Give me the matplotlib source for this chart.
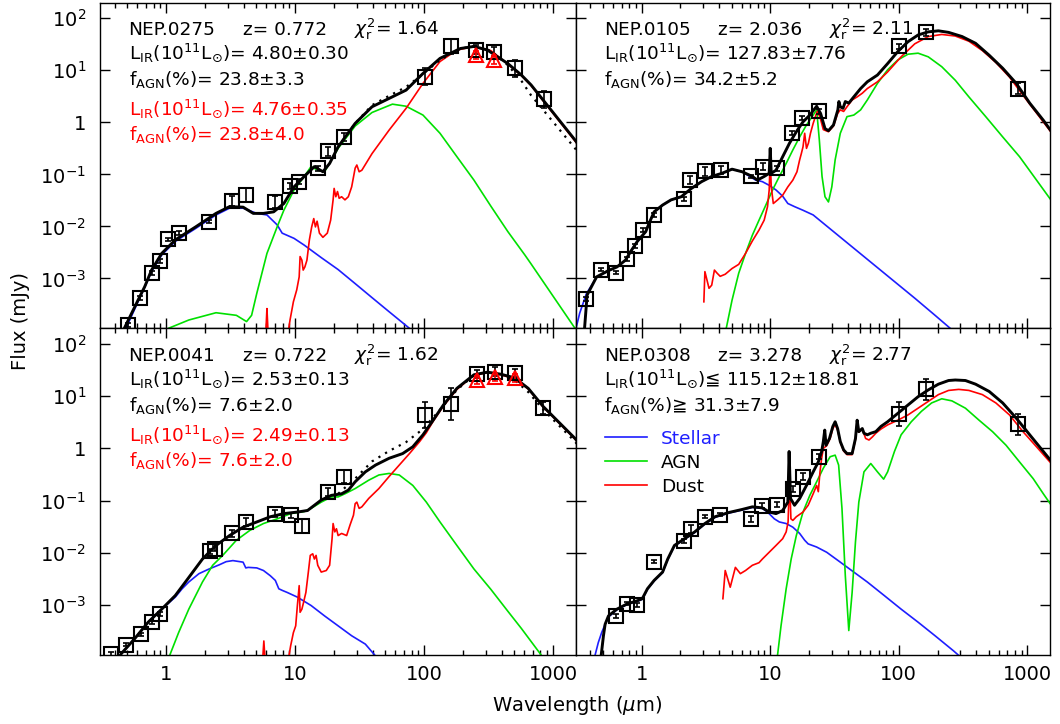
import matplotlib

matplotlib.use("Agg")

import matplotlib.pyplot as plt
import numpy as np
from matplotlib.lines import Line2D
from matplotlib.ticker import NullLocator

plt.rcParams["font.family"] = ["DejaVu Sans"]
plt.rcParams["mathtext.fontset"] = "dejavusans"

# every value below is log10(wavelength / um) or log10(flux / mJy)

# ---- NEP.0275 (top left) ----
p1_total_lw = [-0.34, -0.324, -0.218, -0.166, -0.113, -0.034, 0.071, 0.229, 0.387, 0.492,
               0.597, 0.676, 0.755, 0.834, 0.913, 0.992, 1.071, 1.150, 1.216, 1.268,
               1.334, 1.466, 1.597, 1.729, 1.861, 1.992, 2.124, 2.282, 2.387, 2.492,
               2.650, 2.755, 2.83, 3.171, 3.20]
p1_total_lf = [-4.08, -3.96, -3.42, -3.16, -2.84, -2.52, -2.26, -2.01, -1.75, -1.62,
               -1.63, -1.75, -1.75, -1.72, -1.56, -1.24, -1.04, -0.85, -0.95, -0.79,
               -0.47, -0.02, 0.30, 0.46, 0.62, 0.94, 1.23, 1.42, 1.46, 1.39,
               1.13, 0.91, 0.72, -0.34, -0.44]
p1_star_lw = [-0.34, -0.311, -0.218, -0.166, -0.113, -0.034, 0.071, 0.229, 0.387, 0.492,
              0.597, 0.703, 0.782, 0.861, 0.900, 0.992, 1.071, 1.203, 1.334, 1.466,
              1.597, 1.729, 1.887, 2.10]
p1_star_lf = [-4.10, -3.96, -3.45, -3.17, -2.87, -2.55, -2.29, -2.04, -1.78, -1.65,
              -1.65, -1.75, -1.78, -1.97, -2.13, -2.23, -2.36, -2.60, -2.83, -3.10,
              -3.37, -3.64, -3.96, -4.40]
p1_agn_lw = [-0.034, 0.018, 0.176, 0.387, 0.545, 0.624, 0.663, 0.703, 0.782, 0.861,
             0.913, 0.992, 1.071, 1.124, 1.176, 1.229, 1.282, 1.334, 1.466, 1.597,
             1.755, 1.861, 1.992, 2.124, 2.255, 2.387, 2.518, 2.650, 2.782, 2.827,
             3.171, 3.25]
p1_agn_lf = [-4.06, -3.96, -3.80, -3.66, -3.71, -3.83, -3.71, -3.29, -2.52, -2.01,
             -1.69, -1.30, -1.04, -0.85, -0.92, -0.95, -0.72, -0.50, -0.07, 0.19,
             0.35, 0.31, 0.14, -0.21, -0.66, -1.11, -1.61, -2.10, -2.55, -2.71,
             -3.96, -4.25]
p1_dust_lw = [0.765, 0.776, 0.782, 0.789, 0.800, 0.930, 0.945, 0.961, 0.987, 1.013,
              1.032, 1.039, 1.053, 1.063, 1.076, 1.092, 1.111, 1.129, 1.145, 1.158,
              1.171, 1.189, 1.216, 1.250, 1.276, 1.295, 1.303, 1.316, 1.329, 1.342,
              1.361, 1.387, 1.413, 1.439, 1.466, 1.479, 1.497, 1.518, 1.597, 1.729,
              1.861, 1.992, 2.124, 2.255, 2.387, 2.518, 2.650, 2.755, 2.83, 3.20]
p1_dust_lf = [-4.4, -3.9, -3.58, -3.95, -4.4, -4.40, -4.06, -3.80, -3.45, -3.22,
              -2.97, -2.58, -2.65, -2.84, -2.78, -2.65, -2.26, -2.01, -1.85, -2.01,
              -1.90, -2.13, -2.21, -2.13, -1.88, -1.49, -1.27, -1.43, -1.33, -1.46,
              -1.43, -1.49, -1.43, -1.24, -0.88, -0.82, -0.95, -0.92, -0.60, -0.15,
              0.27, 0.75, 1.17, 1.39, 1.46, 1.38, 1.12, 0.90, 0.71, -0.45]
p1_alt_lw = [1.334, 1.466, 1.597, 1.729, 1.861, 1.992, 2.124, 2.282, 2.387, 2.518,
             2.650, 2.755, 2.83, 3.171, 3.20]
p1_alt_lf = [-0.47, -0.02, 0.33, 0.51, 0.68, 0.93, 1.20, 1.42, 1.46, 1.38,
             1.10, 0.80, 0.52, -0.50, -0.60]
p1_obs_lw = [-0.297, -0.200, -0.108, -0.047, 0.013, 0.097, 0.334, 0.513, 0.618, 0.847,
             0.961, 1.032, 1.176, 1.255, 1.382, 2.005, 2.211, 2.400, 2.545, 2.703, 2.930]
p1_obs_lf = [-3.90, -3.38, -2.90, -2.67, -2.25, -2.13, -1.91, -1.51, -1.40, -1.53,
             -1.22, -1.14, -0.88, -0.56, -0.28, 0.88, 1.46, 1.40, 1.36, 1.04, 0.44]
p1_obs_err = [0.04, 0.04, 0.04, 0.04, 0.03, 0.04, 0.03, 0.09, 0.13, 0.12,
              0.06, 0.05, 0.05, 0.08, 0.07, 0.16, 0.14, 0.08, 0.08, 0.16, 0.17]
p1_tri_lw = [2.400, 2.545]
p1_tri_lf = [1.29, 1.20]
p1_tri_err = [0.08, 0.08]

# ---- NEP.0105 (top right) ----
p2_total_lw = [-0.447, -0.424, -0.403, -0.350, -0.258, -0.192, -0.126, -0.087, -0.034, 0.032,
               0.058, 0.097, 0.163, 0.229, 0.308, 0.387, 0.466, 0.545, 0.624, 0.703,
               0.782, 0.861, 0.900, 0.953, 0.992, 1.000, 1.008, 1.045, 1.097, 1.150,
               1.203, 1.255, 1.308, 1.361, 1.392, 1.426, 1.453, 1.492, 1.526, 1.534,
               1.545, 1.566, 1.584, 1.611, 1.650, 1.703, 1.755, 1.834, 1.913, 1.992,
               2.071, 2.150, 2.229, 2.308, 2.387, 2.492, 2.597, 2.703, 2.808, 2.913,
               3.018, 3.124, 3.20]
p2_total_lf = [-4.06, -3.32, -3.22, -2.97, -2.85, -2.78, -2.65, -2.49, -2.29, -2.10,
               -1.94, -1.72, -1.59, -1.49, -1.43, -1.27, -1.14, -1.04, -0.98, -0.90,
               -0.95, -1.04, -1.11, -1.04, -0.98, -0.50, -0.98, -0.92, -0.66, -0.40,
               -0.18, 0.01, 0.14, 0.31, 0.17, -0.12, -0.16, -0.05, 0.24, 0.40,
               0.30, 0.27, 0.40, 0.37, 0.49, 0.65, 0.78, 0.91, 1.13, 1.36,
               1.55, 1.68, 1.74, 1.76, 1.73, 1.65, 1.52, 1.29, 1.04, 0.75,
               0.37, 0.04, -0.22]
p2_star_lw = [-0.513, -0.482, -0.429, -0.350, -0.258, -0.192, -0.126, -0.087, -0.034, 0.032,
              0.058, 0.097, 0.163, 0.229, 0.308, 0.387, 0.466, 0.545, 0.624, 0.703,
              0.782, 0.834, 0.887, 0.939, 0.992, 1.045, 1.097, 1.137, 1.189, 1.255,
              1.334, 1.492, 1.650, 1.808, 1.966, 2.124, 2.282, 2.400, 2.545]
p2_star_lf = [-3.99, -3.67, -3.29, -2.98, -2.85, -2.78, -2.65, -2.49, -2.29, -2.10,
              -1.94, -1.72, -1.59, -1.49, -1.43, -1.27, -1.14, -1.04, -0.98, -0.90,
              -0.95, -1.03, -1.11, -1.14, -1.21, -1.30, -1.42, -1.56, -1.62, -1.69,
              -1.78, -2.10, -2.42, -2.74, -3.06, -3.38, -3.71, -3.96, -4.25]
p2_agn_lw = [0.620, 0.658, 0.703, 0.755, 0.808, 0.861, 0.913, 0.966, 1.018, 1.071,
             1.124, 1.176, 1.229, 1.282, 1.334, 1.361, 1.382, 1.403, 1.426, 1.453,
             1.479, 1.505, 1.545, 1.597, 1.650, 1.703, 1.755, 1.834, 1.913, 1.992,
             2.071, 2.150, 2.229, 2.334, 2.439, 2.545, 2.676, 2.808, 2.939, 3.071, 3.20]
p2_agn_lf = [-4.3, -3.96, -3.42, -2.90, -2.52, -2.17, -1.88, -1.59, -1.30, -1.04,
             -0.79, -0.53, -0.28, -0.05, 0.14, 0.24, -0.34, -1.04, -1.43, -1.53,
             -1.24, -0.72, -0.21, 0.11, 0.14, 0.24, 0.43, 0.75, 1.01, 1.20,
             1.31, 1.33, 1.26, 1.07, 0.81, 0.49, 0.11, -0.28, -0.66, -1.11, -1.55]
p2_dust_lw = [0.484, 0.492, 0.505, 0.524, 0.545, 0.566, 0.587, 0.611, 0.650, 0.703,
              0.755, 0.808, 0.861, 0.913, 0.953, 0.979, 0.992, 1.000, 1.008, 1.024,
              1.058, 1.097, 1.137, 1.176, 1.208, 1.229, 1.242, 1.255, 1.268, 1.282,
              1.297, 1.313, 1.334, 1.355, 1.366, 1.387, 1.413, 1.453, 1.492, 1.524,
              1.545, 1.571, 1.597, 1.637, 1.676, 1.716, 1.755, 1.834, 1.913, 2.018,
              2.124, 2.229, 2.334, 2.439, 2.545, 2.650, 2.755, 2.861, 2.966, 3.071, 3.20]
p2_dust_lf = [-3.45, -2.87, -3.00, -3.19, -3.13, -2.84, -2.90, -2.96, -2.92, -2.81,
              -2.73, -2.52, -2.28, -2.07, -1.88, -1.62, -1.30, -0.69, -1.24, -1.56,
              -1.49, -1.40, -1.24, -1.11, -0.95, -0.72, -0.60, -0.47, -0.21, -0.50,
              -0.40, -0.21, -0.02, 0.14, 0.21, 0.10, -0.14, -0.18, -0.07, 0.17,
              0.24, 0.21, 0.30, 0.43, 0.49, 0.56, 0.65, 0.78, 0.97, 1.26,
              1.51, 1.65, 1.69, 1.66, 1.56, 1.38, 1.15, 0.87, 0.52, 0.18, -0.24]
p2_obs_lw = [-0.429, -0.316, -0.197, -0.113, -0.053, 0.011, 0.097, 0.329, 0.376, 0.492,
             0.616, 0.847, 0.945, 1.050, 1.171, 1.250, 1.382, 2.000, 2.208, 2.926]
p2_obs_lf = [-3.40, -2.83, -2.89, -2.63, -2.38, -2.07, -1.78, -1.48, -1.11, -0.94,
             -0.92, -1.04, -0.85, -0.88, -0.20, 0.08, 0.21, 1.46, 1.73, 0.65]
p2_obs_err = [0.04, 0.03, 0.03, 0.04, 0.04, 0.04, 0.04, 0.04, 0.07, 0.09,
              0.08, 0.03, 0.06, 0.05, 0.04, 0.04, 0.04, 0.04, 0.06, 0.10]

# ---- NEP.0041 (bottom left) ----
p3_total_lw = [-0.40, -0.350, -0.245, -0.139, -0.034, 0.071, 0.150, 0.216, 0.282, 0.387,
               0.492, 0.597, 0.703, 0.808, 0.913, 1.018, 1.097, 1.150, 1.203, 1.282,
               1.361, 1.413, 1.466, 1.545, 1.624, 1.729, 1.834, 1.913, 1.992, 2.071,
               2.150, 2.255, 2.387, 2.492, 2.597, 2.703, 2.808, 2.925, 3.171, 3.20]
p3_total_lf = [-4.15, -3.94, -3.65, -3.33, -3.08, -2.82, -2.56, -2.34, -2.12, -1.86,
               -1.67, -1.51, -1.41, -1.31, -1.25, -1.22, -1.19, -1.09, -0.99, -0.90,
               -0.87, -0.80, -0.64, -0.45, -0.32, -0.19, -0.10, 0.03, 0.26, 0.54,
               0.83, 1.15, 1.41, 1.46, 1.42, 1.35, 1.15, 0.80, 0.19, 0.10]
p3_star_lw = [-0.40, -0.350, -0.245, -0.139, -0.034, 0.071, 0.124, 0.176, 0.255, 0.334,
              0.413, 0.466, 0.518, 0.571, 0.597, 0.618, 0.637, 0.703, 0.755, 0.808,
              0.847, 0.874, 0.900, 0.939, 1.018, 1.124, 1.229, 1.334, 1.439, 1.545,
              1.611, 1.75]
p3_star_lf = [-4.20, -3.94, -3.65, -3.33, -3.08, -2.85, -2.69, -2.56, -2.40, -2.31,
              -2.23, -2.17, -2.15, -2.17, -2.18, -2.29, -2.28, -2.29, -2.34, -2.44,
              -2.53, -2.69, -2.72, -2.76, -2.85, -3.01, -3.21, -3.40, -3.59, -3.75,
              -3.94, -4.35]
p3_agn_lw = [-0.03, 0.032, 0.097, 0.176, 0.282, 0.361, 0.439, 0.545, 0.650, 0.755,
             0.861, 0.966, 1.071, 1.124, 1.203, 1.282, 1.334, 1.387, 1.466, 1.571,
             1.650, 1.729, 1.808, 1.913, 2.018, 2.124, 2.255, 2.387, 2.518, 2.650,
             2.755, 2.90, 3.0]
p3_agn_lf = [-4.35, -3.94, -3.53, -3.08, -2.56, -2.24, -2.05, -1.76, -1.57, -1.44,
             -1.35, -1.25, -1.21, -1.15, -1.03, -0.93, -0.93, -0.87, -0.77, -0.61,
             -0.51, -0.48, -0.51, -0.71, -1.03, -1.41, -1.86, -2.31, -2.70, -3.12,
             -3.45, -3.93, -4.3]
p3_dust_lw = [0.740, 0.750, 0.758, 0.766, 0.776, 0.940, 0.953, 0.966, 0.987, 1.005,
              1.018, 1.032, 1.039, 1.053, 1.066, 1.084, 1.103, 1.118, 1.137, 1.150,
              1.163, 1.176, 1.203, 1.242, 1.268, 1.287, 1.295, 1.308, 1.321, 1.334,
              1.361, 1.400, 1.426, 1.453, 1.466, 1.479, 1.497, 1.518, 1.571, 1.650,
              1.729, 1.808, 1.887, 1.966, 2.018, 2.071, 2.150, 2.255, 2.387, 2.492,
              2.597, 2.703, 2.808, 2.925, 3.171, 3.20]
p3_dust_lf = [-4.4, -4.0, -3.69, -4.0, -4.4, -4.4, -3.97, -3.78, -3.53, -3.40,
              -3.01, -2.63, -3.14, -3.08, -2.95, -2.76, -2.37, -2.05, -2.02, -2.12,
              -2.05, -2.24, -2.37, -2.34, -2.24, -1.73, -1.44, -1.60, -1.54, -1.67,
              -1.63, -1.67, -1.47, -1.28, -1.06, -1.03, -1.15, -1.12, -0.96, -0.77,
              -0.54, -0.32, -0.10, 0.13, 0.30, 0.52, 0.81, 1.13, 1.40, 1.45,
              1.41, 1.33, 1.14, 0.79, 0.18, 0.09]
p3_alt_lw = [1.334, 1.466, 1.597, 1.729, 1.861, 1.992, 2.124, 2.255, 2.387, 2.492,
             2.597, 2.703, 2.808, 2.925, 3.171, 3.20]
p3_alt_lf = [-0.87, -0.58, -0.25, -0.05, 0.12, 0.37, 0.74, 1.12, 1.40, 1.46,
             1.42, 1.31, 1.08, 0.74, 0.13, 0.04]
p3_obs_lw = [-0.429, -0.311, -0.197, -0.108, -0.047, 0.339, 0.382, 0.513, 0.618, 0.847,
             0.966, 1.053, 1.255, 1.382, 2.005, 2.211, 2.408, 2.550, 2.703, 2.925]
p3_obs_lf = [-3.94, -3.76, -3.56, -3.33, -3.17, -1.97, -1.92, -1.63, -1.41, -1.25,
             -1.28, -1.49, -0.83, -0.54, 0.64, 0.85, 1.42, 1.47, 1.44, 0.77]
p3_obs_err = [0.03, 0.03, 0.03, 0.03, 0.04, 0.05, 0.05, 0.07, 0.07, 0.07,
              0.05, 0.14, 0.08, 0.12, 0.25, 0.30, 0.08, 0.08, 0.08, 0.12]
p3_tri_lw = [2.408, 2.550, 2.703]
p3_tri_lf = [1.31, 1.36, 1.35]
p3_tri_err = [0.07, 0.07, 0.07]

# ---- NEP.0308 (bottom right) ----
p4_total_lw = [-0.318, -0.297, -0.284, -0.258, -0.192, -0.113, -0.034, 0.005, 0.045, 0.097,
               0.163, 0.203, 0.255, 0.334, 0.413, 0.492, 0.571, 0.676, 0.782, 0.861,
               0.939, 0.992, 1.045, 1.097, 1.137, 1.147, 1.158, 1.189, 1.229, 1.282,
               1.334, 1.374, 1.400, 1.413, 1.424, 1.434, 1.461, 1.487, 1.505, 1.524,
               1.545, 1.571, 1.597, 1.637, 1.663, 1.676, 1.689, 1.716, 1.729, 1.755,
               1.782, 1.821, 1.861, 1.913, 1.992, 2.071, 2.150, 2.229, 2.308, 2.387,
               2.439, 2.518, 2.597, 2.703, 2.808, 2.913, 3.018, 3.124, 3.20]
p4_total_lf = [-4.04, -3.59, -3.37, -3.21, -3.08, -2.98, -2.92, -2.88, -2.69, -2.53,
               -2.37, -2.12, -1.86, -1.73, -1.60, -1.44, -1.31, -1.23, -1.17, -1.12,
               -1.14, -1.22, -1.25, -1.19, -1.03, -0.06, -0.96, -1.09, -0.96, -0.71,
               -0.45, -0.26, -0.06, 0.13, 0.35, 0.06, 0.19, 0.42, 0.51, 0.38,
               0.13, -0.03, -0.10, -0.10, 0.19, 0.54, 0.32, 0.38, 0.29, 0.26,
               0.29, 0.32, 0.42, 0.51, 0.67, 0.83, 0.99, 1.12, 1.23, 1.30,
               1.31, 1.30, 1.23, 1.09, 0.87, 0.58, 0.26, -0.06, -0.29]
p4_star_lw = [-0.40, -0.363, -0.337, -0.311, -0.284, -0.258, -0.192, -0.113, -0.034, 0.005,
              0.045, 0.097, 0.163, 0.203, 0.255, 0.334, 0.413, 0.492, 0.571, 0.676,
              0.782, 0.861, 0.939, 0.979, 1.032, 1.071, 1.124, 1.176, 1.229, 1.268,
              1.295, 1.361, 1.439, 1.545, 1.650, 1.755, 1.887, 2.018, 2.150, 2.282,
              2.426, 2.55]
p4_star_lf = [-4.4, -3.97, -3.72, -3.53, -3.37, -3.23, -3.09, -2.99, -2.93, -2.89,
              -2.70, -2.54, -2.38, -2.13, -1.87, -1.74, -1.61, -1.45, -1.32, -1.24,
              -1.18, -1.13, -1.15, -1.22, -1.35, -1.41, -1.44, -1.51, -1.63, -1.76,
              -1.83, -1.89, -1.99, -2.18, -2.37, -2.56, -2.82, -3.08, -3.33, -3.59,
              -3.88, -4.15]
p4_agn_lw = [1.03, 1.058, 1.084, 1.124, 1.163, 1.203, 1.255, 1.308, 1.361, 1.413,
             1.466, 1.505, 1.532, 1.558, 1.584, 1.611, 1.637, 1.663, 1.689, 1.729,
             1.782, 1.834, 1.882, 1.913, 1.966, 2.018, 2.097, 2.176, 2.255, 2.334,
             2.413, 2.518, 2.624, 2.729, 2.834, 2.939, 3.045, 3.124, 3.20]
p4_agn_lf = [-4.4, -3.94, -3.40, -2.69, -2.12, -1.67, -1.22, -0.90, -0.64, -0.38,
             -0.16, -0.13, -0.32, -1.15, -2.44, -3.49, -2.76, -1.79, -1.03, -0.45,
             -0.29, -0.45, -0.59, -0.45, -0.06, 0.26, 0.51, 0.71, 0.87, 0.95,
             0.91, 0.77, 0.54, 0.32, 0.06, -0.26, -0.58, -0.87, -1.14]
p4_dust_lw = [0.632, 0.650, 0.689, 0.729, 0.768, 0.808, 0.861, 0.913, 0.939, 0.992,
              1.045, 1.097, 1.124, 1.139, 1.150, 1.161, 1.176, 1.203, 1.255, 1.295,
              1.334, 1.361, 1.374, 1.387, 1.400, 1.413, 1.439, 1.466, 1.487, 1.505,
              1.524, 1.545, 1.571, 1.597, 1.637, 1.663, 1.676, 1.689, 1.716, 1.742,
              1.768, 1.795, 1.821, 1.861, 1.913, 1.992, 2.071, 2.150, 2.229, 2.308,
              2.387, 2.466, 2.545, 2.650, 2.755, 2.861, 2.966, 3.071, 3.20]
p4_dust_lf = [-2.88, -2.34, -2.66, -2.28, -2.40, -2.34, -2.24, -2.19, -2.12, -1.99,
              -1.86, -1.73, -1.60, -1.41, -0.58, -1.35, -1.38, -1.31, -1.22, -1.09,
              -0.87, -0.71, -0.83, -0.45, -0.19, 0.00, 0.05, 0.19, 0.38, 0.46,
              0.35, 0.12, -0.05, -0.12, -0.12, 0.17, 0.51, 0.31, 0.37, 0.19,
              0.16, 0.22, 0.29, 0.37, 0.45, 0.54, 0.64, 0.77, 0.90, 1.03,
              1.11, 1.13, 1.11, 1.03, 0.87, 0.64, 0.32, 0.03, -0.33]
p4_obs_lw = [-0.197, -0.113, -0.034, 0.097, 0.329, 0.382, 0.492, 0.613, 0.847, 0.939,
             1.050, 1.176, 1.255, 1.382, 2.000, 2.208, 2.926]
p4_obs_lf = [-3.21, -2.98, -3.00, -2.17, -1.78, -1.55, -1.31, -1.27, -1.35, -1.10,
             -1.08, -0.78, -0.54, -0.16, 0.65, 1.13, 0.46]
p4_obs_err = [0.04, 0.03, 0.03, 0.03, 0.04, 0.08, 0.03, 0.03, 0.06, 0.05,
              0.05, 0.05, 0.06, 0.05, 0.23, 0.20, 0.20]

LIR = r"L$_{\rm IR}$(10$^{11}$L$_{\odot}$)"
FAGN = r"f$_{\rm AGN}$(%)"

panels = [
    dict(name="NEP.0275", z="z= 0.772", chi=r"$\chi_{\rm r}^{2}$= 1.64",
         total=(p1_total_lw, p1_total_lf), star=(p1_star_lw, p1_star_lf),
         agn=(p1_agn_lw, p1_agn_lf), dust=(p1_dust_lw, p1_dust_lf),
         alt=(p1_alt_lw, p1_alt_lf), obs=(p1_obs_lw, p1_obs_lf, p1_obs_err),
         tri=(p1_tri_lw, p1_tri_lf, p1_tri_err),
         lines=[(LIR + r"= 4.80$\pm$0.30", "black"), (FAGN + r"= 23.8$\pm$3.3", "black"),
                (LIR + r"= 4.76$\pm$0.35", "red"), (FAGN + r"= 23.8$\pm$4.0", "red")]),
    dict(name="NEP.0105", z="z= 2.036", chi=r"$\chi_{\rm r}^{2}$= 2.11",
         total=(p2_total_lw, p2_total_lf), star=(p2_star_lw, p2_star_lf),
         agn=(p2_agn_lw, p2_agn_lf), dust=(p2_dust_lw, p2_dust_lf),
         alt=None, obs=(p2_obs_lw, p2_obs_lf, p2_obs_err), tri=None,
         lines=[(LIR + r"= 127.83$\pm$7.76", "black"), (FAGN + r"= 34.2$\pm$5.2", "black")]),
    dict(name="NEP.0041", z="z= 0.722", chi=r"$\chi_{\rm r}^{2}$= 1.62",
         total=(p3_total_lw, p3_total_lf), star=(p3_star_lw, p3_star_lf),
         agn=(p3_agn_lw, p3_agn_lf), dust=(p3_dust_lw, p3_dust_lf),
         alt=(p3_alt_lw, p3_alt_lf), obs=(p3_obs_lw, p3_obs_lf, p3_obs_err),
         tri=(p3_tri_lw, p3_tri_lf, p3_tri_err),
         lines=[(LIR + r"= 2.53$\pm$0.13", "black"), (FAGN + r"= 7.6$\pm$2.0", "black"),
                (LIR + r"= 2.49$\pm$0.13", "red"), (FAGN + r"= 7.6$\pm$2.0", "red")]),
    dict(name="NEP.0308", z="z= 3.278", chi=r"$\chi_{\rm r}^{2}$= 2.77",
         total=(p4_total_lw, p4_total_lf), star=(p4_star_lw, p4_star_lf),
         agn=(p4_agn_lw, p4_agn_lf), dust=(p4_dust_lw, p4_dust_lf),
         alt=None, obs=(p4_obs_lw, p4_obs_lf, p4_obs_err), tri=None,
         lines=[(LIR + r"≦ 115.12$\pm$18.81", "black"), (FAGN + r"≧ 31.3$\pm$7.9", "black")]),
]

BLUE = "#1e1eff"
GREEN = "#00e000"
RED = "#ff0000"
TEXT_SIZE = 13.3

x_left, x_mid, x_right = 0.0943, 0.5431, 0.9906
y_bot, y_mid, y_top = 0.0953, 0.5466, 0.9963
boxes = [
    [x_left, y_mid, x_mid - x_left, y_top - y_mid],
    [x_mid, y_mid, x_right - x_mid, y_top - y_mid],
    [x_left, y_bot, x_mid - x_left, y_mid - y_bot],
    [x_mid, y_bot, x_right - x_mid, y_mid - y_bot],
]


def lin(values):
    return 10 ** np.asarray(values, dtype=float)


def draw_points(axis, lw_, lf_, err, color, marker):
    x = lin(lw_)
    y = lin(lf_)
    e = np.asarray(err)
    yerr = [y - y * 10 ** -e, y * 10 ** e - y]
    axis.errorbar(x, y, yerr=yerr, fmt="none", ecolor=color, elinewidth=1.2,
                  capsize=2.0, capthick=1.2, zorder=6)
    axis.plot(x, y, marker, mfc="none", mec=color, ms=10, mew=1.5, ls="none", zorder=7)


fig = plt.figure(figsize=(10.6, 7.24), dpi=100)

for idx, (panel, box) in enumerate(zip(panels, boxes)):
    ax = fig.add_axes(box)
    ax.set_xscale("log")
    ax.set_yscale("log")

    ax.plot(lin(panel["star"][0]), lin(panel["star"][1]), color=BLUE, lw=1.2, zorder=2)
    ax.plot(lin(panel["agn"][0]), lin(panel["agn"][1]), color=GREEN, lw=1.2, zorder=2)
    ax.plot(lin(panel["dust"][0]), lin(panel["dust"][1]), color=RED, lw=1.2, zorder=3)
    if panel["alt"] is not None:
        ax.plot(lin(panel["alt"][0]), lin(panel["alt"][1]), color="black", lw=1.6,
                ls=(0, (1, 2.5)), zorder=4)
    ax.plot(lin(panel["total"][0]), lin(panel["total"][1]), color="black", lw=2.1, zorder=5)

    draw_points(ax, *panel["obs"], "black", "s")
    if panel["tri"] is not None:
        draw_points(ax, *panel["tri"], RED, "^")

    ax.set_xlim(0.307, 1500)
    ax.set_ylim(1.1e-4, 200)

    ax.set_xticks([1, 10, 100, 1000])
    ax.set_yticks([1e-3, 1e-2, 1e-1, 1, 10, 100])
    ax.yaxis.set_minor_locator(NullLocator())
    if idx >= 2:
        ax.set_xticklabels(["1", "10", "100", "1000"])
    else:
        ax.set_xticklabels([])
    if idx % 2 == 0:
        ax.set_yticklabels([r"10$^{-3}$", r"10$^{-2}$", r"10$^{-1}$", "1",
                            r"10$^{1}$", r"10$^{2}$"])
    else:
        ax.set_yticklabels([])
    ax.tick_params(which="both", direction="in", top=True, right=True, labelsize=14)
    ax.tick_params(which="major", length=7, width=1.0)
    ax.tick_params(which="minor", length=3.5, width=1.0)
    ax.tick_params(axis="y", pad=10)
    ax.tick_params(axis="x", pad=7)
    for spine in ax.spines.values():
        spine.set_linewidth(1.0)

    ax.text(0.060, 0.901, panel["name"], transform=ax.transAxes, fontsize=TEXT_SIZE, va="baseline")
    ax.text(0.300, 0.901, panel["z"], transform=ax.transAxes, fontsize=TEXT_SIZE, va="baseline")
    ax.text(0.533, 0.901, panel["chi"], transform=ax.transAxes, fontsize=TEXT_SIZE, va="baseline")
    line_y = [0.826, 0.746, 0.655, 0.578]
    for (label, color), yy in zip(panel["lines"], line_y):
        ax.text(0.060, yy, label, transform=ax.transAxes, fontsize=TEXT_SIZE,
                color=color, va="baseline")

    if idx == 3:
        handles = [Line2D([], [], color=BLUE, lw=1.2),
                   Line2D([], [], color=GREEN, lw=1.2),
                   Line2D([], [], color=RED, lw=1.2)]
        leg = ax.legend(handles, ["Stellar", "AGN", "Dust"], loc="upper left",
                        bbox_to_anchor=(0.061, 0.69), frameon=False, fontsize=TEXT_SIZE,
                        handlelength=2.3, handletextpad=0.75, labelspacing=0.33,
                        borderpad=0, borderaxespad=0)
        leg.get_texts()[0].set_color(BLUE)

fig.text(0.019, 0.557, "Flux (mJy)", rotation=90, ha="center", va="center", fontsize=14)
fig.text(0.544, 0.025, r"Wavelength ($\mu$m)", ha="center", va="center", fontsize=14)

fig.savefig("out.png", dpi=100)
plt.close(fig)
